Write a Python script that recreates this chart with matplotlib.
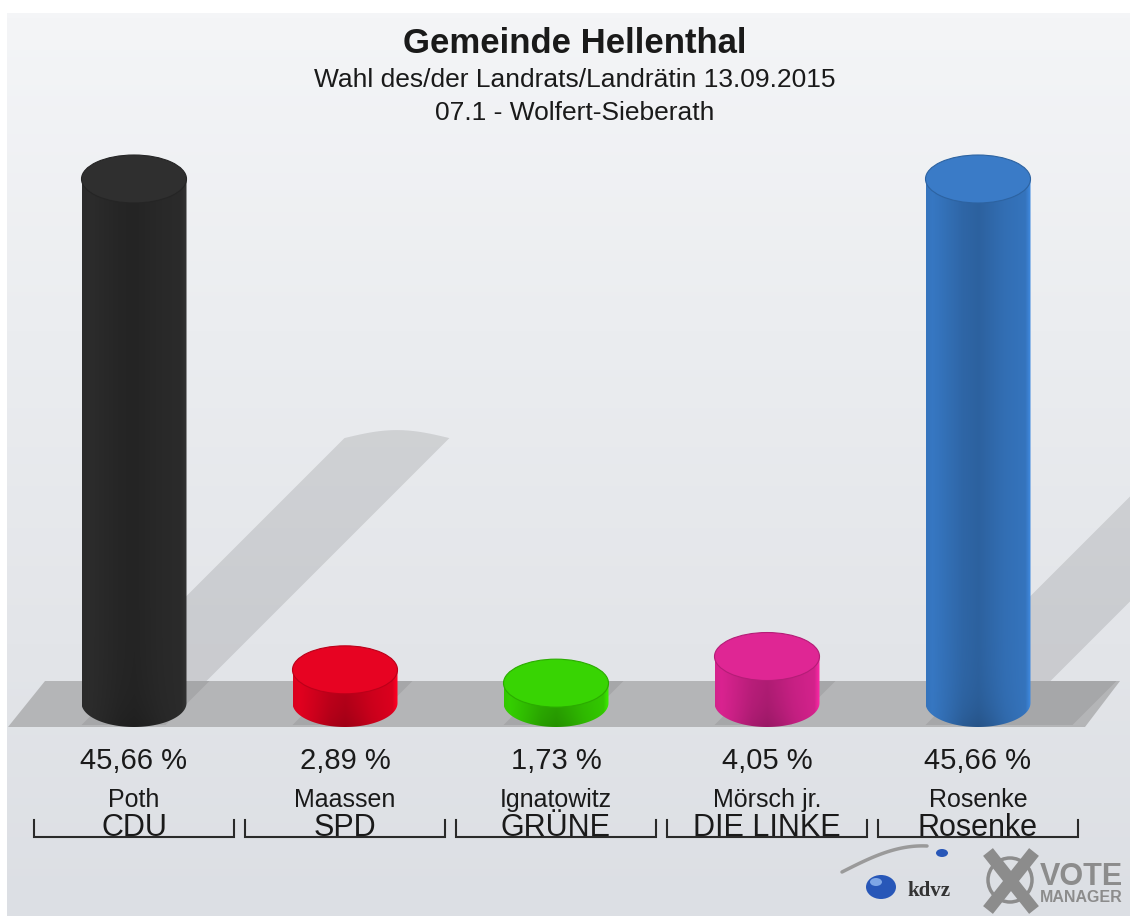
import numpy as np
import matplotlib
matplotlib.use("Agg")
import matplotlib.pyplot as plt
import matplotlib.colors as mcolors
from matplotlib.patches import Polygon, Ellipse

### chart data
candidates = ["Poth", "Maassen", "Ignatowitz", "Mörsch jr.", "Rosenke"]
parties = ["CDU", "SPD", "GRÜNE", "DIE LINKE", "Rosenke"]
shares = [45.66, 2.89, 1.73, 4.05, 45.66]
share_labels = ["45,66 %", "2,89 %", "1,73 %", "4,05 %", "45,66 %"]
bar_colors = ["#2b2b2b", "#dc001e", "#33c900", "#d4228c", "#3574bd"]

title = "Gemeinde Hellenthal"
subtitle = "Wahl des/der Landrats/Landrätin 13.09.2015"
district = "07.1 - Wolfert-Sieberath"

### mapping of the picture: first bar centre at x=134px, 211px per bar,
### 0 % at y=703px, 11.476px per percentage point
X0, XPX = 134, 211
Y0, YPX = 703, 11.476
W, H = 1130, 916


def to_x(p):
    return (p - X0) / XPX


def to_y(p):
    return (Y0 - p) / YPX


half_w = 52.5 / XPX     # half bar width (category units)
half_h = 24 / YPX       # half height of the ellipses (percent units)

plt.rcParams['font.family'] = ['Liberation Sans', 'DejaVu Sans']

fig = plt.figure(figsize=(W / 100, H / 100), dpi=100)
fig.patch.set_facecolor('white')
ax = fig.add_axes([0, 0, 1, 1])
ax.set_xlim(to_x(0), to_x(W))
ax.set_ylim(to_y(H), to_y(0))
ax.axis('off')

### background gradient
stops = [(0.0, '#f4f5f7'), (0.35, '#ebedf0'), (0.7, '#e3e5e9'), (1.0, '#dcdfe4')]
bg_cmap = mcolors.LinearSegmentedColormap.from_list('bg', stops)
ax.imshow(np.linspace(0, 1, 256)[:, None], cmap=bg_cmap, aspect='auto',
          extent=(to_x(7), to_x(W), to_y(H), to_y(13)), origin='upper',
          interpolation='bilinear', zorder=0)

### shadows on the back wall (only the tall bars reach it)
for i, v in enumerate(shares):
    if v < 10:
        continue
    rise = v * 5.32
    bl = i - half_w + 20 / XPX
    br = i + half_w + 20 / XPX
    yb = to_y(681)
    tl, tr = bl + rise / XPX, br + rise / XPX
    yt = to_y(681 - rise)
    t = np.linspace(0, 1, 40)
    arc_x = tl + (tr - tl) * t
    arc_y = yt + (8 / YPX) * np.sin(np.pi * t)
    pts = [(bl, yb)] + list(zip(arc_x, arc_y)) + [(br, yb)]
    ax.add_patch(Polygon(pts, closed=True, facecolor='black', alpha=0.105,
                         edgecolor='none', zorder=1))

### floor
floor = [(to_x(8), to_y(727)), (to_x(45), to_y(681)),
         (to_x(1120), to_y(681)), (to_x(1085), to_y(727))]
ax.add_patch(Polygon(floor, closed=True, facecolor='#b4b5b7',
                     edgecolor='none', zorder=2))

### shadows on the floor
floor_shadow_px = [-21, -29, -29, -28, 42]
for i, r in enumerate(floor_shadow_px):
    pts = [(i - half_w, to_y(725)), (i + half_w + r / XPX, to_y(725)),
           (i + half_w + (r + 44) / XPX, to_y(681)),
           (i - half_w + 44 / XPX, to_y(681))]
    ax.add_patch(Polygon(pts, closed=True, facecolor='black', alpha=0.075,
                         edgecolor='none', zorder=3))

### cylinders
prof_pos = [0, 0.06, 0.35, 0.5, 0.75, 0.95, 1.0]
prof_val = [1.0, 1.03, 0.88, 0.84, 0.95, 1.0, 1.2]
for i, (v, c) in enumerate(zip(shares, bar_colors)):
    base = np.array(mcolors.to_rgb(c))
    t = np.linspace(np.pi, 2 * np.pi, 80)
    xs = np.concatenate([[i - half_w], i + half_w * np.cos(t), [i + half_w]])
    ys = np.concatenate([[v], half_h * np.sin(t), [v]])
    body = Polygon(np.column_stack([xs, ys]), closed=True,
                   facecolor='none', edgecolor='none', zorder=4)
    ax.add_patch(body)

    u = np.linspace(0, 1, 200)
    prof = np.interp(u, prof_pos, prof_val)
    rows = np.linspace(-half_h, v, 300)
    dist_px = (rows + half_h) * YPX
    centre = np.exp(-((u - 0.5) / 0.3) ** 2)
    dark = 1 - 0.14 * np.exp(-dist_px / 22)[:, None] * centre[None, :]
    fac = prof[None, :] * dark
    img = np.clip(base[None, None, :] * fac[:, :, None], 0, 1)
    im = ax.imshow(img, extent=(i - half_w, i + half_w, -half_h, v),
                   origin='lower', aspect='auto', interpolation='bilinear',
                   zorder=4)
    im.set_clip_path(body)

    top_col = np.clip(base * 1.04 + 0.01, 0, 1)
    ax.add_patch(Ellipse((i, v), 2 * half_w, 2 * half_h, facecolor=top_col,
                         edgecolor=np.clip(base * 0.85, 0, 1), lw=0.8,
                         zorder=5))

### labels under the bars
for i in range(len(shares)):
    ax.text(i, to_y(769), share_labels[i], ha='center', va='baseline',
            fontsize=21, color='#1a1a1a', zorder=6)
    ax.text(i, to_y(807), candidates[i], ha='center', va='baseline',
            fontsize=18, color='#1a1a1a', zorder=6)
    ax.text(i, to_y(836), parties[i], ha='center', va='baseline',
            fontsize=22, color='#1a1a1a', zorder=6)
    xl, xr = i - 100 / XPX, i + 100 / XPX
    ax.plot([xl, xl, xr, xr], [to_y(820), to_y(837), to_y(837), to_y(820)],
            color='#2a2a2a', lw=1.5, solid_joinstyle='miter', zorder=6)

### titles
cx = to_x(W / 2 + 10)
ax.text(cx, to_y(53), title, ha='center', va='baseline', fontsize=25,
        fontweight='bold', color='#1a1a1a')
ax.text(cx, to_y(87), subtitle, ha='center', va='baseline', fontsize=19,
        color='#1a1a1a')
ax.text(cx, to_y(120), district, ha='center', va='baseline', fontsize=19,
        color='#1a1a1a')

### logos (kdvz / VOTE MANAGER)
sw = np.linspace(0, 1, 40)
ax.plot(to_x(842 + 85 * sw), to_y(872 - 30 * np.sin(sw * np.pi / 2) + 4 * sw),
        color='#9a9a9a', lw=2.5, solid_capstyle='round', zorder=6)
ax.add_patch(Ellipse((to_x(881), to_y(887)), 30 / XPX, 24 / YPX,
                     facecolor='#2857b8', edgecolor='none', zorder=7))
ax.add_patch(Ellipse((to_x(876), to_y(882)), 12 / XPX, 8 / YPX,
                     facecolor='#7ea6e6', edgecolor='none', zorder=7))
ax.add_patch(Ellipse((to_x(942), to_y(853)), 12 / XPX, 8 / YPX,
                     facecolor='#2857b8', edgecolor='none', zorder=7))
ax.text(to_x(907), to_y(896), "kdvz", ha='left', va='baseline', fontsize=15,
        fontweight='bold', family=['Liberation Serif', 'DejaVu Serif'],
        color='#333333', zorder=7)
ax.add_patch(Ellipse((to_x(1010), to_y(880)), 44 / XPX, 44 / YPX,
                     facecolor='none', edgecolor='#8c8c8c', lw=2.5, zorder=7))
ax.plot([to_x(988), to_x(1034)], [to_y(852), to_y(910)], color='#8c8c8c',
        lw=9, solid_capstyle='butt', zorder=7)
ax.plot([to_x(1034), to_x(988)], [to_y(852), to_y(910)], color='#8c8c8c',
        lw=9, solid_capstyle='butt', zorder=7)
ax.text(to_x(1040), to_y(885), "VOTE", ha='left', va='baseline', fontsize=22,
        fontweight='bold', color='#8c8c8c', zorder=7)
ax.text(to_x(1040), to_y(902), "MANAGER", ha='left', va='baseline',
        fontsize=11.5, fontweight='bold', color='#8c8c8c', zorder=7)

fig.savefig("out.png", dpi=100, facecolor=fig.get_facecolor())
